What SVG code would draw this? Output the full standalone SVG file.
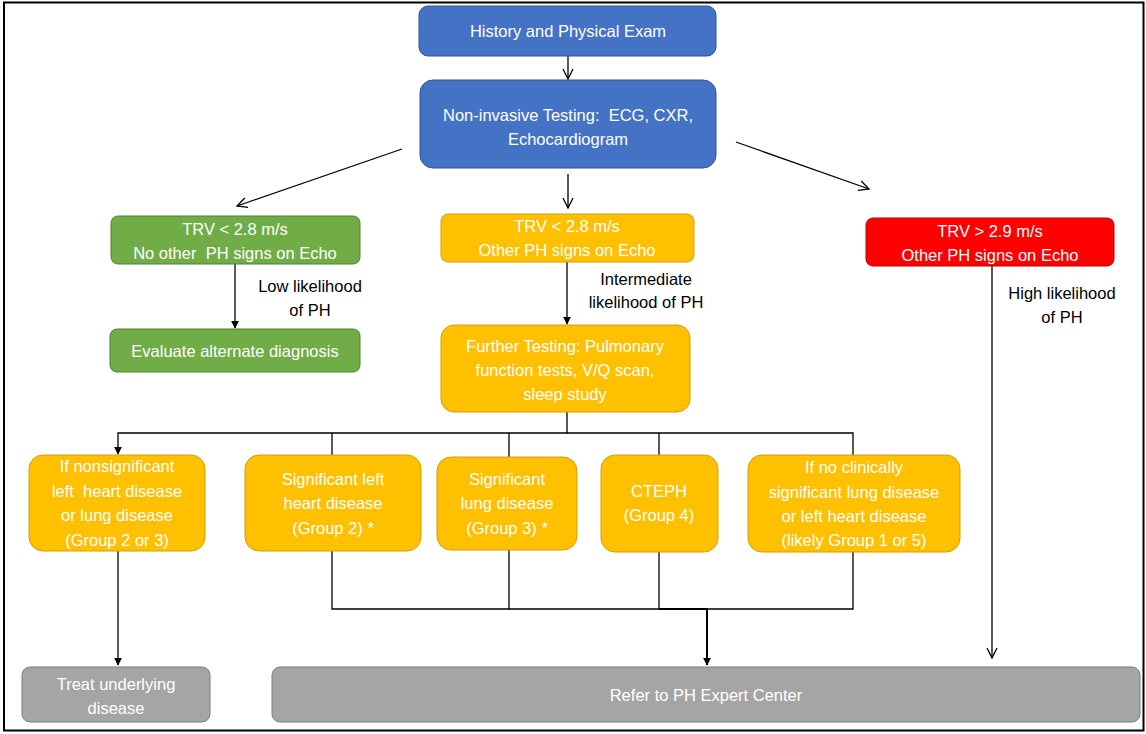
<svg xmlns="http://www.w3.org/2000/svg" width="1146" height="734" viewBox="0 0 1146 734">
<defs>
<style>
text{font-family:"Liberation Sans",Arial,sans-serif;font-size:16.5px;text-anchor:middle;white-space:pre}
.w{fill:#fff}
.k{fill:#000}
.blue{fill:#4472C4;stroke:#2F528F;stroke-width:1}
.green{fill:#70AD47;stroke:#507E32;stroke-width:1}
.yel{fill:#FFC000;stroke:#D4A000;stroke-width:1}
.red{fill:#FF0000;stroke:#C00000;stroke-width:1}
.gray{fill:#A5A5A5;stroke:#7F7F7F;stroke-width:1}
.c{fill:none;stroke:#000;stroke-width:1.3}
.c2{fill:none;stroke:#000;stroke-width:2}
</style>
<marker id="open" viewBox="0 0 12 12" refX="11" refY="6" markerWidth="12" markerHeight="12" markerUnits="userSpaceOnUse" orient="auto">
<path d="M1,1 L11,6 L1,11" fill="none" stroke="#000" stroke-width="1.3"/>
</marker>
<marker id="fill" viewBox="0 0 10 10" refX="9" refY="5" markerWidth="8" markerHeight="8" markerUnits="userSpaceOnUse" orient="auto">
<path d="M0,0 L10,5 L0,10 Z" fill="#000"/>
</marker>
</defs>
<rect x="0" y="0" width="1146" height="734" fill="#fff"/>
<rect x="4" y="2.5" width="1139.5" height="728" fill="none" stroke="#000" stroke-width="2"/>

<g id="connectors">
<line class="c" x1="568" y1="56" x2="568" y2="79" marker-end="url(#open)"/>
<line class="c" x1="402" y1="149" x2="237" y2="206" marker-end="url(#open)"/>
<line class="c" x1="568" y1="174" x2="568" y2="208" marker-end="url(#open)"/>
<line class="c" x1="736" y1="142" x2="869" y2="189" marker-end="url(#open)"/>
<line class="c" x1="235" y1="264" x2="235" y2="328" marker-end="url(#fill)"/>
<line class="c" x1="567" y1="262" x2="567" y2="324" marker-end="url(#fill)"/>
<line class="c" x1="992" y1="266" x2="992" y2="658" marker-end="url(#open)"/>
<polyline class="c" points="567,412 567,433 118,433 118,454" marker-end="url(#fill)"/>
<polyline class="c" points="567,433 853,433 853,455"/>
<line class="c" x1="332" y1="433" x2="332" y2="455"/>
<line class="c" x1="509" y1="433" x2="509" y2="457"/>
<line class="c" x1="659" y1="433" x2="659" y2="455"/>
<line class="c" x1="118" y1="551" x2="118" y2="665" marker-end="url(#fill)"/>
<polyline class="c" points="332,551 332,609 853,609 853,552"/>
<line class="c" x1="509" y1="550" x2="509" y2="609"/>
<line class="c" x1="659" y1="552" x2="659" y2="609"/>
<polyline class="c2" points="659,609 707,609 707,665" marker-end="url(#fill)"/>
</g>

<g id="n-history">
<rect class="blue" x="419" y="6" width="297" height="50" rx="9"/>
<text class="w" x="568" y="37">History and Physical Exam</text>
</g>
<g id="n-noninvasive">
<rect class="blue" x="420" y="80" width="296" height="88" rx="13"/>
<text class="w" x="568" y="121" xml:space="preserve">Non-invasive Testing:  ECG, CXR,</text>
<text class="w" x="568" y="145">Echocardiogram</text>
</g>
<g id="n-low">
<rect class="green" x="111" y="216" width="249" height="48" rx="7"/>
<text class="w" x="235" y="235">TRV &lt; 2.8 m/s</text>
<text class="w" x="235" y="259" xml:space="preserve">No other  PH signs on Echo</text>
</g>
<g id="n-inter">
<rect class="yel" x="441" y="214" width="253" height="48" rx="7"/>
<text class="w" x="567" y="232">TRV &lt; 2.8 m/s</text>
<text class="w" x="567" y="256">Other PH signs on Echo</text>
</g>
<g id="n-high">
<rect class="red" x="866" y="218" width="248" height="48" rx="7"/>
<text class="w" x="990" y="237">TRV &gt; 2.9 m/s</text>
<text class="w" x="990" y="261">Other PH signs on Echo</text>
</g>
<g id="l-low">
<text class="k" x="310" y="292">Low likelihood</text>
<text class="k" x="310" y="316">of PH</text>
</g>
<g id="l-inter">
<text class="k" x="646" y="285">Intermediate</text>
<text class="k" x="646" y="308">likelihood of PH</text>
</g>
<g id="l-high">
<text class="k" x="1062" y="299">High likelihood</text>
<text class="k" x="1062" y="323">of PH</text>
</g>
<g id="n-evaluate">
<rect class="green" x="110" y="329" width="250" height="43" rx="7"/>
<text class="w" x="235" y="357">Evaluate alternate diagnosis</text>
</g>
<g id="n-further">
<rect class="yel" x="441" y="325" width="249" height="87" rx="13"/>
<text class="w" x="565" y="352">Further Testing: Pulmonary</text>
<text class="w" x="565" y="376">function tests, V/Q scan,</text>
<text class="w" x="565" y="400">sleep study</text>
</g>
<g id="n-nonsig">
<rect class="yel" x="29" y="455" width="176" height="96" rx="14"/>
<text class="w" x="117" y="472">If nonsignificant</text>
<text class="w" x="117" y="497" xml:space="preserve">left  heart disease</text>
<text class="w" x="117" y="521">or lung disease</text>
<text class="w" x="117" y="546">(Group 2 or 3)</text>
</g>
<g id="n-lhd">
<rect class="yel" x="245" y="455" width="176" height="96" rx="14"/>
<text class="w" x="333" y="485">Significant left</text>
<text class="w" x="333" y="509">heart disease</text>
<text class="w" x="333" y="534">(Group 2) *</text>
</g>
<g id="n-lung">
<rect class="yel" x="437" y="457" width="140" height="93" rx="14"/>
<text class="w" x="507" y="485">Significant</text>
<text class="w" x="507" y="509">lung disease</text>
<text class="w" x="507" y="534">(Group 3) *</text>
</g>
<g id="n-cteph">
<rect class="yel" x="601" y="455" width="117" height="97" rx="14"/>
<text class="w" x="659" y="497">CTEPH</text>
<text class="w" x="659" y="521">(Group 4)</text>
</g>
<g id="n-group15">
<rect class="yel" x="748" y="455" width="212" height="97" rx="14"/>
<text class="w" x="854" y="473">If no clinically</text>
<text class="w" x="854" y="498">significant lung disease</text>
<text class="w" x="854" y="522">or left heart disease</text>
<text class="w" x="854" y="546">(likely Group 1 or 5)</text>
</g>
<g id="n-treat">
<rect class="gray" x="22" y="667" width="188" height="55" rx="8"/>
<text class="w" x="116" y="690">Treat underlying</text>
<text class="w" x="116" y="714">disease</text>
</g>
<g id="n-refer">
<rect class="gray" x="272" y="667" width="868" height="55" rx="8"/>
<text class="w" x="706" y="701">Refer to PH Expert Center</text>
</g>
</svg>
